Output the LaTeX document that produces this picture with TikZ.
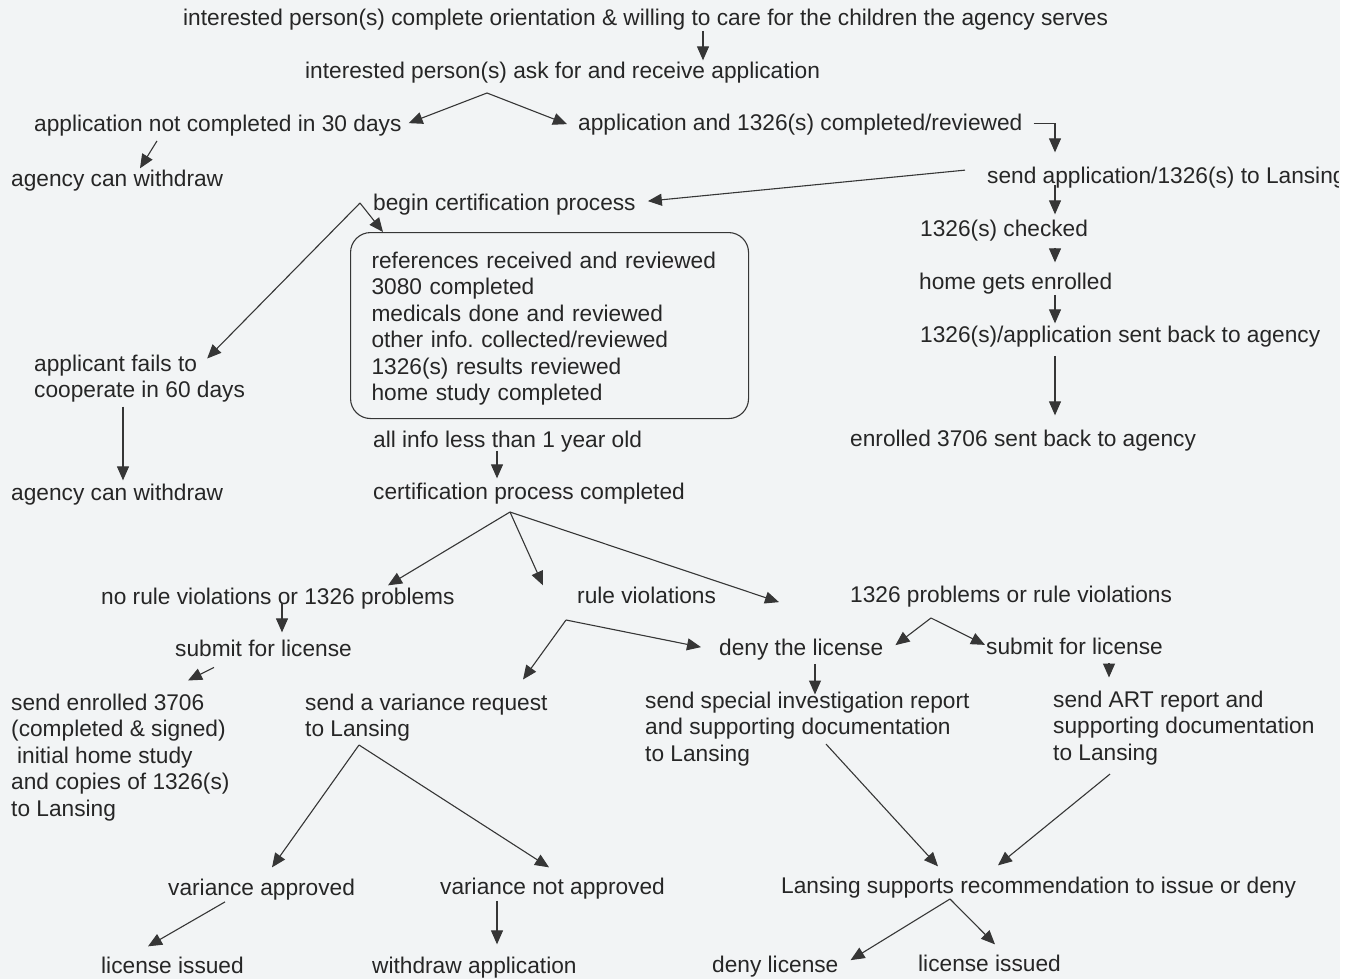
\documentclass[tikz,border=0pt]{standalone}
\usepackage{fontspec}
\setmainfont{Liberation Sans}
\usepackage{xcolor}
\usetikzlibrary{arrows.meta}
\definecolor{inkgray}{HTML}{262626}
\definecolor{linegray}{HTML}{363636}
\definecolor{papertint}{HTML}{F2F4F5}
\tikzset{
	lbl/.style={anchor=base west, inner sep=0pt, text=inkgray},
	lines/.style={anchor=north west, inner sep=0pt, align=left, text=inkgray},
	flow/.style={draw=linegray, line width=1.1pt, -{Triangle[length=14pt,width=12pt]}},
}

\begin{document}
\begin{tikzpicture}[x=1pt,y=-1pt,font=\fontsize{22.7}{26.5}\selectfont]
	% Fixed canvas in pixel units (y runs downward).
	\path[use as bounding box] (0,0) rectangle (1355,979);
	\fill[white] (0,0) rectangle (1355,979);
	\fill[papertint] (0,0) rectangle (1340,979);

	\begin{scope}
	\clip (0,0) rectangle (1338,979);

	% Application stage.
	\node[lbl] (orient) at (183,26) {interested person(s) complete orientation \& willing to care for the children the agency serves};
	\node[lbl] (ask) at (305,79) {interested person(s) ask for and receive application};
	\node[lbl] (nocomp) at (34,132) {application not completed in 30 days};
	\node[lbl] (appdone) at (578,131) {application and 1326(s) completed/reviewed};
	\node[lbl] (withdrawA) at (11,186) {agency can withdraw};

	% Lansing enrollment column.
	\node[lbl] (sendapp) at (987,183) {send application/1326(s) to Lansing};
	\node[lbl] (checked) at (920,236) {1326(s) checked};
	\node[lbl] (enrolled) at (919,289) {home gets enrolled};
	\node[lbl] (sentback) at (920,342) {1326(s)/application sent back to agency};
	\node[lbl] (enr3706) at (850,446) {enrolled 3706 sent back to agency};

	% Certification stage.
	\node[lbl] (begincert) at (373,210) {begin certification process};
	\node[draw=linegray, line width=1.1pt, rounded corners=20pt, anchor=north west, align=left,
		text width=356pt, inner xsep=21pt, inner ysep=0pt, minimum height=186pt, text=inkgray] (checks) at (350,232)
		{\rule{0pt}{22.4pt}references received and reviewed\\3080 completed\\medicals done and reviewed\\other info.\ collected/reviewed\\1326(s) results reviewed\\home study completed};
	\node[lines] (fails) at (34,354.5) {applicant fails to\\cooperate in 60 days};
	\node[lbl] (withdrawB) at (11,500) {agency can withdraw};
	\node[lbl] (allinfo) at (373,447) {all info less than 1 year old};
	\node[lbl] (certdone) at (373,499) {certification process completed};

	% Outcomes of certification.
	\node[lbl] (norule) at (101,604) {no rule violations or 1326 problems};
	\node[lbl] (rulev) at (577,603) {rule violations};
	\node[lbl] (probs) at (850,602) {1326 problems or rule violations};
	\node[lbl] (submitL) at (175,656) {submit for license};
	\node[lbl] (deny) at (719,655) {deny the license};
	\node[lbl] (submitR) at (986,654) {submit for license};
	\node[lines] (sendenr) at (11,693.5) {send enrolled 3706\\(completed \& signed)\\\hspace*{6pt}initial home study\\and copies of 1326(s)\\to Lansing};
	\node[lines] (varreq) at (305,693.5) {send a variance request\\to Lansing};
	\node[lines] (special) at (645,691.5) {send special investigation report\\and supporting documentation\\to Lansing};
	\node[lines] (art) at (1053,690.5) {send ART report and\\supporting documentation\\to Lansing};

	% Final decisions.
	\node[lbl] (varok) at (168,895) {variance approved};
	\node[lbl] (varno) at (440,894) {variance not approved};
	\node[lbl] (supports) at (781,893) {Lansing supports recommendation to issue or deny};
	\node[lbl] (issuedL) at (101,973) {license issued};
	\node[lbl] (withdrawapp) at (372,973) {withdraw application};
	\node[lbl] (denylic) at (712,972) {deny license};
	\node[lbl] (issuedR) at (918,971) {license issued};

	% Fork points below the branching texts.
	\coordinate (askfork) at (487,93);
	\coordinate (certfork) at (360,203);
	\coordinate (donefork) at (510,512);
	\coordinate (rulefork) at (566,620);
	\coordinate (probfork) at (931,618);
	\coordinate (varfork) at (359,745);
	\coordinate (lansfork) at (950,899);

	% First steps.
	\draw[flow] ([xshift=520pt]orient.south west) -- ([xshift=398pt,yshift=2pt]ask.north west);
	\draw[flow] (askfork) -- ([xshift=7pt,yshift=3pt]nocomp.east);
	\draw[flow] (askfork) -- ([xshift=-11pt,yshift=1pt]appdone.west);
	\draw[flow] ([xshift=123pt,yshift=-4pt]nocomp.south west) -- ([xshift=129pt,yshift=1pt]withdrawA.north west);

	% Lansing chain.
	\draw[flow] ([xshift=11pt,yshift=2pt]appdone.east) -| ([xshift=68pt,yshift=14pt]sendapp.north west);
	\draw[flow] ([xshift=-22pt,yshift=7pt]sendapp.west) -- ([xshift=12pt,yshift=3pt]begincert.east);
	\draw[flow] ([xshift=68pt,yshift=3pt]sendapp.south west) -- ([xshift=135pt,yshift=5pt]checked.north west);
	\draw[flow] ([xshift=135pt,yshift=-7pt]checked.south west) -- ([xshift=136pt,yshift=10pt]enrolled.north west);
	\draw[flow] ([xshift=136pt,yshift=-1pt]enrolled.south west) -- ([xshift=135pt,yshift=2pt]sentback.north west);
	\draw[flow] ([xshift=135pt,yshift=-9pt]sentback.south west) -- ([xshift=205pt,yshift=14pt]enr3706.north west);

	% Certification branches.
	\draw[flow] (certfork) -- ([xshift=-38pt,yshift=-4pt]fails.north east);
	\draw[flow] (certfork) -- ([xshift=33pt]checks.north west);
	\draw[flow] ([xshift=89pt,yshift=-4pt]fails.south west) -- ([xshift=112pt,yshift=3pt]withdrawB.north west);
	\draw[flow] ([xshift=124pt,yshift=1pt]allinfo.south west) -- ([xshift=124pt,yshift=4pt]certdone.north west);

	% Outcomes.
	\draw[flow] (donefork) -- ([xshift=287pt,yshift=2pt]norule.north west);
	\draw[flow] (donefork) -- ([xshift=-34pt,yshift=1pt]rulev.north west);
	\draw[flow] (donefork) -- ([xshift=-71pt,yshift=-6pt]probs.west);
	\draw[flow] ([xshift=181pt,yshift=6pt]norule.south west) -- ([xshift=107pt,yshift=7pt]submitL.north west);
	\draw[flow] ([xshift=39pt,yshift=-11pt]submitL.south west) -- ([xshift=177pt,yshift=13pt]sendenr.north west);
	\draw[flow] (rulefork) -- ([xshift=218pt,yshift=14pt]varreq.north west);
	\draw[flow] (rulefork) -- ([xshift=-18pt,yshift=2pt]deny.west);
	\draw[flow] (probfork) -- ([xshift=12pt,yshift=4pt]deny.east);
	\draw[flow] (probfork) -- ([xshift=-1pt,yshift=1pt]submitR.west);
	\draw[flow] ([xshift=96pt,yshift=-4pt]deny.south west) -- ([xshift=170pt,yshift=-3pt]special.north west);
	\draw[flow] ([xshift=123pt,yshift=-9pt]submitR.south west) -- ([xshift=56pt,yshift=13pt]art.north west);

	% Variance and Lansing decisions.
	\draw[flow] (varfork) -- ([xshift=104pt,yshift=11pt]varok.north west);
	\draw[flow] (varfork) -- ([xshift=109pt,yshift=10pt]varno.north west);
	\draw[flow] ([xshift=57pt,yshift=-2pt]varok.south west) -- ([xshift=47pt,yshift=10pt]issuedL.north west);
	\draw[flow] ([xshift=57pt,yshift=-2pt]varno.south west) -- ([xshift=125pt,yshift=12pt]withdrawapp.north west);
	\draw[flow] ([xshift=181pt,yshift=22pt]special.south west) -- ([xshift=157pt,yshift=10pt]supports.north west);
	\draw[flow] ([xshift=57pt,yshift=-9pt]art.south west) -- ([xshift=217pt,yshift=11pt]supports.north west);
	\draw[flow] (lansfork) -- ([xshift=12pt,yshift=6pt]denylic.east);
	\draw[flow] (lansfork) -- ([xshift=77pt,yshift=10pt]issuedR.north west);
	\end{scope}
\end{tikzpicture}
\end{document}
